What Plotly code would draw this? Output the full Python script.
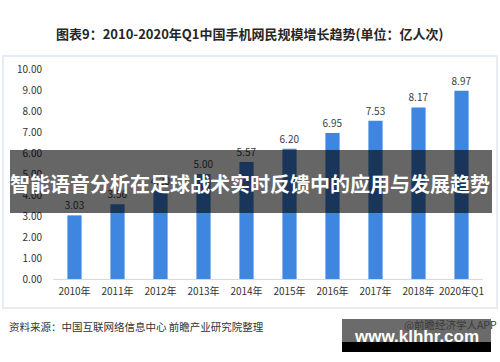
import plotly.graph_objects as go

categories = ["2010年", "2011年", "2012年", "2013年", "2014年", "2015年", "2016年", "2017年", "2018年", "2020年Q1"]
values = [3.03, 3.56, 4.20, 5.00, 5.57, 6.20, 6.95, 7.53, 8.17, 8.97]
y_ticks = [0, 1, 2, 3, 4, 5, 6, 7, 8, 9, 10]

title_text = "图表9：2010-2020年Q1中国手机网民规模增长趋势(单位：亿人次)"
banner_text = "智能语音分析在足球战术实时反馈中的应用与发展趋势"
source_text = "资料来源：中国互联网络信息中心 前瞻产业研究院整理"
credit_text = "@前瞻经济学人APP"
site_text = "www.klhhr.com"

W, H = 500, 362
L, R, T, B = 53, 483, 69, 279  # plot area pixel bounds


def px(x):
    return (x - L) / (R - L)


def py(y):
    return (B - y) / (B - T)


FONT = "Noto Sans CJK SC, Noto Sans, sans-serif"

fig = go.Figure(
    go.Bar(
        x=categories,
        y=values,
        marker=dict(color="#3f86e0", line=dict(width=0)),
        width=0.33,
        texttemplate="%{y:.2f}",
        textposition="outside",
        constraintext="none",
        textfont=dict(size=10, color="#404040", family=FONT),
        cliponaxis=False,
        hoverinfo="skip",
    )
)

fig.update_layout(
    width=W,
    height=H,
    margin=dict(l=L, r=W - R, t=T, b=H - B, pad=0),
    paper_bgcolor="white",
    plot_bgcolor="white",
    showlegend=False,
    font=dict(family=FONT, color="#333333"),
    xaxis=dict(
        type="category",
        showgrid=False,
        showline=True,
        linecolor="#d9d9d9",
        linewidth=1,
        ticks="outside",
        ticklen=3,
        tickcolor="rgba(0,0,0,0)",
        tickfont=dict(size=10, color="#333333"),
    ),
    yaxis=dict(
        range=[0, 10],
        tickvals=y_ticks,
        tickformat=".2f",
        showgrid=False,
        zeroline=False,
        showline=False,
        ticks="outside",
        ticklen=8,
        tickcolor="rgba(0,0,0,0)",
        tickfont=dict(size=10, color="#333333"),
    ),
)

shapes = [
    # light panel border
    dict(type="rect", xref="paper", yref="paper",
         x0=px(3), x1=px(497), y0=py(308), y1=py(56),
         line=dict(color="#e6ecf5", width=2), fillcolor="rgba(0,0,0,0)", layer="below"),
    # dark banner overlay
    dict(type="rect", xref="paper", yref="paper",
         x0=px(10), x1=px(492), y0=py(213), y1=py(150),
         line=dict(width=0), fillcolor="rgba(0,0,0,0.6)", layer="above"),
    # bottom-right site box
    dict(type="rect", xref="paper", yref="paper",
         x0=px(342), x1=px(491), y0=py(342), y1=py(319),
         line=dict(width=0), fillcolor="#6b6b6b", layer="above"),
    dict(type="rect", xref="paper", yref="paper",
         x0=px(342), x1=px(491), y0=py(352), y1=py(342),
         line=dict(width=0), fillcolor="#000000", layer="above"),
]

annotations = [
    dict(text="<b>" + title_text + "</b>", xref="paper", yref="paper",
         x=px(249), y=py(34), xanchor="center", yanchor="middle", showarrow=False,
         font=dict(size=13, color="#262626", family=FONT)),
    dict(text="<b>" + banner_text + "</b>", xref="paper", yref="paper",
         x=px(250), y=py(183), xanchor="center", yanchor="middle", showarrow=False,
         font=dict(size=20, color="white", family=FONT)),
    dict(text=source_text, xref="paper", yref="paper",
         x=px(7), y=py(326), xanchor="left", yanchor="middle", showarrow=False,
         font=dict(size=10.5, color="#333333", family=FONT)),
    dict(text=credit_text, xref="paper", yref="paper",
         x=px(402), y=py(324), xanchor="left", yanchor="middle", showarrow=False,
         font=dict(size=10.5, color="#3a3a3a", family=FONT)),
    dict(text="<b>" + site_text + "</b>", xref="paper", yref="paper",
         x=px(416), y=py(336), xanchor="center", yanchor="middle", showarrow=False,
         font=dict(size=17, color="white", family="Liberation Sans, Arial, sans-serif")),
]

fig.update_layout(shapes=shapes, annotations=annotations)
fig.write_html(
    "out.html",
    config={"displayModeBar": False},
    post_script="document.body.style.margin='0';document.body.style.overflow='hidden';",
)
